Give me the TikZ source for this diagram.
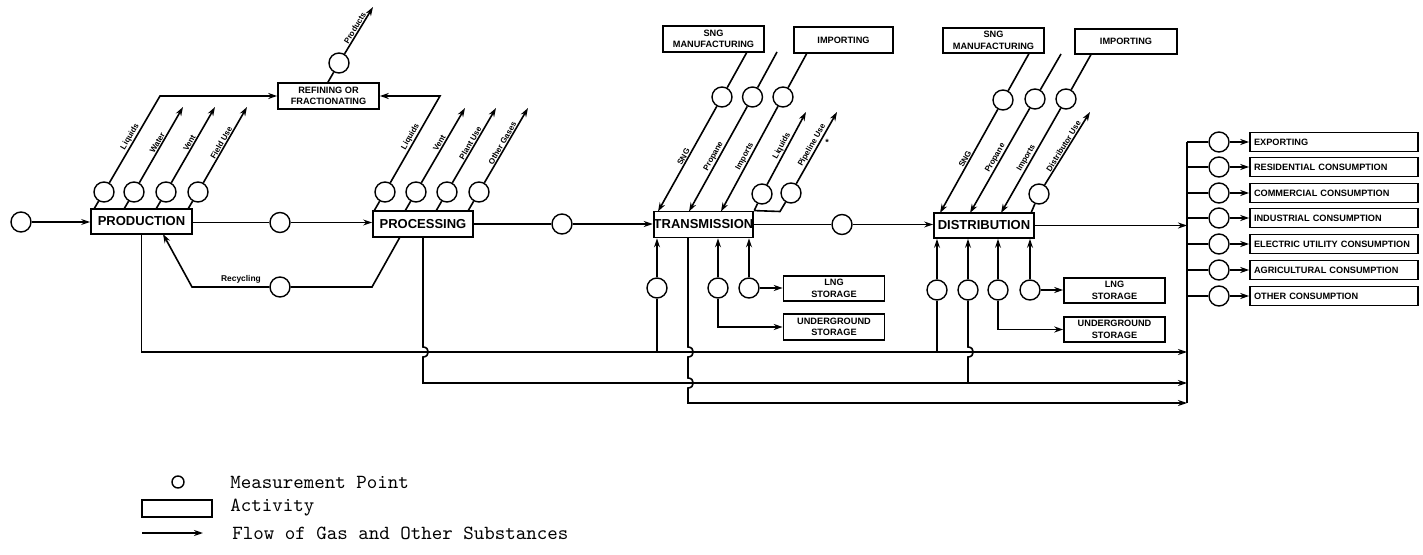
\documentclass[tikz,border=0pt]{standalone}
\usepackage{fontspec}
\setsansfont{Liberation Sans}
\usetikzlibrary{arrows.meta}
\tikzset{
  ln/.style={line width=0.8pt},
  flow/.style={line width=0.8pt, -{Stealth[length=4.5pt,width=3pt]}},
  mp/.style={circle, draw, line width=0.7pt, minimum size=10pt, inner sep=0pt},
  act/.style={draw, line width=0.9pt, minimum width=50.5pt, minimum height=12.5pt, inner sep=0pt,
    font=\sffamily\bfseries\fontsize{6.5}{7}\selectfont},
  sact/.style={draw, line width=0.8pt, minimum width=50.5pt, minimum height=12.5pt, inner sep=0pt,
    align=center, font=\sffamily\bfseries\fontsize{4.6}{5.8}\selectfont},
  outbox/.style={draw, line width=0.8pt, minimum height=9.5pt, text width=80pt, inner xsep=2pt,
    inner ysep=0pt, align=left, font=\sffamily\bfseries\fontsize{4.6}{5}\selectfont},
  lab/.style={font=\sffamily\bfseries\fontsize{4}{4.5}\selectfont, inner sep=0.4pt, sloped, above, midway},
  legtext/.style={anchor=west, inner sep=0pt, font=\ttfamily\fontsize{10}{12}\selectfont},
}
\begin{document}
\begin{tikzpicture}[x=0.5pt,y=-0.5pt]
\useasboundingbox (0,0) rectangle (1423,555);

% ---------- activities ----------
\node[act] (prod) at (141.5,221.5) {PRODUCTION};
\node[act, minimum width=50pt, minimum height=13pt] (proc) at (423,224) {PROCESSING};
\node[sact, minimum height=13pt] (ref) at (328.5,96) {REFINING OR\\FRACTIONATING};
\node[act, minimum width=49.5pt, minimum height=13pt] (trans) at (703.5,224.5) {TRANSMISSION};
\node[act, minimum width=50pt] (dist) at (984,225.5) {DISTRIBUTION};
\node[sact, minimum height=13pt] (sngT) at (713.5,39) {SNG\\MANUFACTURING};
\node[sact, minimum height=13pt, minimum width=49.5pt] (impT) at (843.5,40) {IMPORTING};
\node[sact] (sngD) at (993.5,40.5) {SNG\\MANUFACTURING};
\node[sact, minimum width=51pt] (impD) at (1126,41.5) {IMPORTING};
\node[sact] (lngT) at (834,288.5) {LNG\\STORAGE};
\node[sact, minimum height=13pt] (ugT) at (834,327) {UNDERGROUND\\STORAGE};
\node[sact] (lngD) at (1114.5,290.5) {LNG\\STORAGE};
\node[sact] (ugD) at (1114.5,329.5) {UNDERGROUND\\STORAGE};

% ---------- main line circles ----------
\node[mp] (cin) at (21,222) {};
\node[mp] (c1) at (280,222.5) {};
\node[mp] (c2) at (562,224) {};
\node[mp] (c3) at (842,224.5) {};

\draw[flow] (cin) -- (cin -| prod.west);
\draw[ln] (prod.east |- c1) -- (c1);
\draw[flow] (c1) -- (c1 -| proc.west);
\draw[ln] (proc.east |- c2) -- (c2);
\draw[flow] (c2) -- (c2 -| trans.west);
\draw[ln] (trans.east |- c3) -- (c3);
\draw[flow] (c3) -- (c3 -| dist.west);

% ---------- production outputs ----------
\node[mp] (pc1) at (104,192) {};
\node[mp] (pc2) at (134,192) {};
\node[mp] (pc3) at (166,192) {};
\node[mp] (pc4) at (198,192) {};
\coordinate (ps1) at (94,209);  \coordinate (pk1) at (160,96);
\coordinate (ps2) at (124,209); \coordinate (pe2) at (183,107);
\coordinate (ps3) at (156,209); \coordinate (pe3) at (215,107);
\coordinate (ps4) at (188,209); \coordinate (pe4) at (247,107);
\draw[ln] (ps1) -- (pc1);
\draw[flow] (pc1) -- node[lab]{Liquids} (pk1) -- (pk1 -| ref.west);
\draw[ln] (ps2) -- (pc2);
\draw[flow] (pc2) -- node[lab]{Water} (pe2);
\draw[ln] (ps3) -- (pc3);
\draw[flow] (pc3) -- node[lab]{Vent} (pe3);
\draw[ln] (ps4) -- (pc4);
\draw[flow] (pc4) -- node[lab]{Field Use} (pe4);

% ---------- refining ----------
\node[mp] (rc) at (339,63) {};
\coordinate (rs) at (327.5,83);
\coordinate (re) at (373,7);
\draw[ln] (rs) -- (rc);
\draw[flow] (rc) -- node[lab]{Products} (re);

% ---------- processing outputs ----------
\node[mp] (qc1) at (385,192) {};
\node[mp] (qc2) at (416,192) {};
\node[mp] (qc3) at (447,192) {};
\node[mp] (qc4) at (479,192) {};
\coordinate (qs1) at (374,211); \coordinate (qk1) at (440,96);
\coordinate (qs2) at (405,211); \coordinate (qe2) at (465,108);
\coordinate (qs3) at (436,211); \coordinate (qe3) at (496,108);
\coordinate (qs4) at (468,211); \coordinate (qe4) at (528,108);
\draw[ln] (qs1) -- (qc1);
\draw[flow] (qc1) -- node[lab]{Liquids} (qk1) -- (qk1 -| ref.east);
\draw[ln] (qs2) -- (qc2);
\draw[flow] (qc2) -- node[lab]{Vent} (qe2);
\draw[ln] (qs3) -- (qc3);
\draw[flow] (qc3) -- node[lab]{Plant Use} (qe3);
\draw[ln] (qs4) -- (qc4);
\draw[flow] (qc4) -- node[lab]{Other Gases} (qe4);

% ---------- recycling ----------
\node[mp] (rcy) at (280,287) {};
\coordinate (rs1) at (400,237);
\coordinate (rk1) at (372,287);
\coordinate (rk2) at (192,287);
\coordinate (rt) at (163,234);
\draw[ln] (rs1) -- (rk1) -- (rcy);
\draw[flow] (rcy) -- (rk2) -- (rt);
\node[font=\sffamily\bfseries\fontsize{4.2}{5}\selectfont, inner sep=0pt] (reclab) at (241,279) {Recycling};

% ---------- transmission inputs / outputs (top) ----------
\node[mp] (tc1) at (722,97) {};
\node[mp] (tc2) at (752.5,97) {};
\node[mp] (tc3) at (783,97) {};
\node[mp] (tc4) at (762,194) {};
\node[mp] (tc5) at (791,193) {};
\coordinate (tsS) at (747,52);  \coordinate (tt1) at (658,211.5);
\coordinate (tsP) at (777,52);  \coordinate (tt2) at (689,211.5);
\coordinate (tsI) at (807,53);  \coordinate (tt3) at (721,211.5);
\coordinate (te4) at (806,112);
\coordinate (tk5) at (780,211.5); \coordinate (te5) at (837,112);
\draw[ln] (tsS) -- (tc1);
\draw[flow] (tc1) -- node[lab]{SNG} (tt1);
\draw[ln] (tsP) -- (tc2);
\draw[flow] (tc2) -- node[lab]{Propane} (tt2);
\draw[ln] (tsI) -- (tc3);
\draw[flow] (tc3) -- node[lab]{Imports} (tt3);
\draw[ln] (trans.north east) -- (tc4);
\draw[flow] (tc4) -- node[lab]{Liquids} (te4);
\draw[ln] (trans.north east) -- (tk5) -- (tc5);
\draw[flow] (tc5) -- node[lab]{Pipeline Use} (te5);
\node[font=\sffamily\bfseries\fontsize{4.5}{5}\selectfont, inner sep=0pt] (star) at (827,142) {*};

% ---------- distribution inputs / outputs (top) ----------
\node[mp] (dc1) at (1003,100) {};
\node[mp] (dc2) at (1035,99) {};
\node[mp] (dc3) at (1066,99) {};
\node[mp] (dc4) at (1039,194) {};
\coordinate (dsS) at (1029,53.5); \coordinate (dt1) at (940,213);
\coordinate (dsP) at (1061,54);   \coordinate (dt2) at (970,213);
\coordinate (dsI) at (1091,54.5); \coordinate (dt3) at (1001,213);
\coordinate (ds4) at (1031,213);  \coordinate (de4) at (1090,112);
\draw[ln] (dsS) -- (dc1);
\draw[flow] (dc1) -- node[lab]{SNG} (dt1);
\draw[ln] (dsP) -- (dc2);
\draw[flow] (dc2) -- node[lab]{Propane} (dt2);
\draw[ln] (dsI) -- (dc3);
\draw[flow] (dc3) -- node[lab]{Imports} (dt3);
\draw[ln] (ds4) -- (dc4);
\draw[flow] (dc4) -- node[lab]{Distributor Use} (de4);

% ---------- bus and bottom lines ----------
\coordinate (bus) at (1187,0);
\coordinate (L1) at (0,352);
\coordinate (L2) at (0,383);
\coordinate (L3) at (0,403);

\draw[flow] (prod.south) -- (prod.south |- L1) -- (bus |- L1);
\draw[flow] (proc.south) -- (423,347) .. controls (430,347) and (430,357) .. (423,357)
  -- (423,383) -- (bus |- L2);
\coordinate (ts2) at (688,237.5);
\draw[flow] (ts2) -- (688,347) .. controls (695,347) and (695,357) .. (688,357)
  -- (688,378) .. controls (695,378) and (695,388) .. (688,388)
  -- (688,403) -- (bus |- L3);

% transmission bottom
\node[mp] (tb1) at (657,288) {};
\node[mp] (tb3) at (718,288) {};
\node[mp] (tb4) at (749,288) {};
\draw[ln] (tb1 |- L1) -- (tb1);
\draw[flow] (tb1) -- (tb1 |- trans.south);
\draw[flow] (tb3) -- (tb3 |- trans.south);
\draw[flow] (tb3) -- (tb3 |- ugT) -- (ugT.west);
\draw[flow] (tb4) -- (tb4 |- trans.south);
\draw[flow] (tb4) -- (tb4 -| lngT.west);

% distribution bottom
\node[mp] (db1) at (937,290) {};
\node[mp] (db2) at (968,290) {};
\node[mp] (db3) at (998,290) {};
\node[mp] (db4) at (1030,290) {};
\draw[ln] (db1 |- L1) -- (db1);
\draw[flow] (db1) -- (db1 |- dist.south);
\draw[ln] (db2 |- L2) -- (968,357) .. controls (975,357) and (975,347) .. (968,347) -- (db2);
\draw[flow] (db2) -- (db2 |- dist.south);
\draw[flow] (db3) -- (db3 |- dist.south);
\draw[flow] (db3) -- (db3 |- ugD) -- (ugD.west);
\draw[flow] (db4) -- (db4 |- dist.south);
\draw[flow] (db4) -- (db4 -| lngD.west);

\draw[flow] (dist.east) -- (bus |- dist.east);

% ---------- consumption outputs ----------
\foreach \i/\y/\t in {1/142/EXPORTING, 2/167/RESIDENTIAL CONSUMPTION, 3/193/COMMERCIAL CONSUMPTION,
  4/218/INDUSTRIAL CONSUMPTION, 5/244/ELECTRIC UTILITY CONSUMPTION,
  6/270/AGRICULTURAL CONSUMPTION, 7/296/OTHER CONSUMPTION}{
  \node[mp] (o\i) at (1219,\y) {};
  \node[outbox] (b\i) at (1334,\y) {\t};
  \draw[ln] (bus |- o\i) -- (o\i);
  \draw[flow] (o\i) -- (b\i.west);
}
\draw[ln] (bus |- L3) -- (bus |- o1);

% ---------- legend ----------
\node[mp, minimum size=6pt] (legc) at (178,482) {};
\node[legtext] (legt1) at (230,482) {Measurement Point};
\node[draw, line width=0.7pt, minimum width=35pt, minimum height=8.5pt, inner sep=0pt] (legb) at (177,508.5) {};
\node[legtext] (legt2) at (230,508) {Activity};
\coordinate (lega) at (142,533);
\coordinate (legz) at (203,533);
\draw[flow] (lega) -- (legz);
\node[legtext] (legt3) at (232,533) {Flow of Gas and Other Substances};
\end{tikzpicture}
\end{document}
